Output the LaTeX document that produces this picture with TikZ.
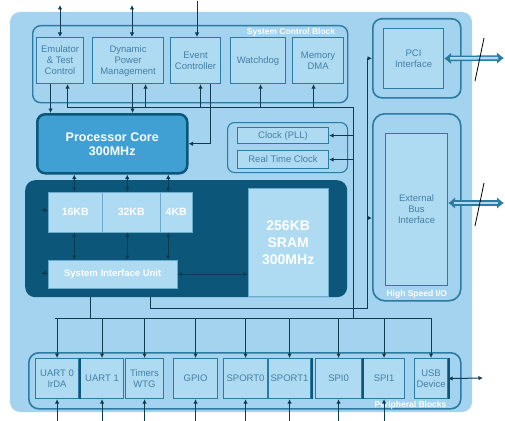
\documentclass[tikz,border=0pt]{standalone}
\usepackage{fontspec}
\setmainfont{Liberation Sans}
\setsansfont{Liberation Sans}
\usepackage{tikz}
\usetikzlibrary{positioning, arrows.meta, calc}

\definecolor{bgblue}{HTML}{A3D3EE}
\definecolor{boxblue}{HTML}{AEDBF2}
\definecolor{lineblue}{HTML}{2B7BA3}
\definecolor{deepblue}{HTML}{0C5779}
\definecolor{wireblue}{HTML}{0E3B52}
\definecolor{coreblue}{HTML}{40A0D4}
\definecolor{labelblue}{HTML}{457FA5}

\begin{document}
\begin{tikzpicture}[
        x=1pt, y=-1pt,
        >={Latex[length=4.5pt,width=4.5pt]},
        % --- looks of the blocks ---
        panel/.style={draw=lineblue, line width=1.4pt, rounded corners=8pt,
            anchor=north west, inner sep=0pt},
        unit/.style={draw=lineblue, line width=1.1pt, fill=boxblue,
            anchor=north west, inner sep=0pt, align=center, text=labelblue,
            font=\sffamily\fontsize{9.5}{11}\selectfont},
        cache/.style={fill=boxblue, draw=lineblue!50!boxblue, line width=0.4pt,
            anchor=north west, inner sep=0pt, align=center, text=white,
            font=\sffamily\bfseries\fontsize{10.5}{12}\selectfont},
        tag/.style={text=white, inner sep=1pt,
            font=\sffamily\bfseries\fontsize{8.5}{10}\selectfont},
        wire/.style={draw=wireblue, line width=1pt},
        pipe/.style={draw=lineblue, line width=5.5pt,
            {Latex[length=7pt,width=12pt]}-{Latex[length=7pt,width=12pt]}},
        pipecore/.style={draw=boxblue, line width=2.5pt,
            shorten <=6pt, shorten >=6pt},
        cut/.style={draw=black, line width=0.8pt}
    ]
    \useasboundingbox (0,0) rectangle (505,420);
    \fill[bgblue, rounded corners=10pt] (10,12) rectangle (472,412);

    % ==================== System Control Block ====================
    \node[panel, minimum width=315pt, minimum height=77pt] (scb) at (32,25) {};
    \node[tag, anchor=north east] at ([xshift=-12pt,yshift=-2pt]scb.north east)
        {System Control Block};

    \node[unit, minimum width=47pt, minimum height=46pt] (emu) at (36,37)  {Emulator\\\& Test\\Control};
    \node[unit, minimum width=71pt, minimum height=46pt] (dpm) at (92,37)  {Dynamic\\Power\\Management};
    \node[unit, minimum width=50pt, minimum height=46pt] (evc) at (170,37) {Event\\Controller};
    \node[unit, minimum width=55pt, minimum height=46pt] (wdg) at (230,37) {Watchdog};
    \node[unit, minimum width=51pt, minimum height=46pt] (dma) at (292,37) {Memory\\DMA};

    % ==================== Core, clocks, memory ====================
    \node[anchor=north west, minimum width=150pt, minimum height=59pt,
          fill=coreblue, draw=deepblue, line width=2.5pt, rounded corners=8pt,
          align=center, text=white, font=\sffamily\bfseries\fontsize{12.5}{14}\selectfont]
        (core) at (36,113) {Processor Core\\300MHz};

    \node[panel, line width=1.1pt, rounded corners=7pt, minimum width=120pt, minimum height=50pt]
        (clkp) at (227,122) {};
    \node[unit, minimum width=91pt, minimum height=16pt] (clk) at (237,127) {Clock (PLL)};
    \node[unit, minimum width=91pt, minimum height=18pt] (rtc) at (237,150) {Real Time Clock};

    \node[anchor=north west, minimum width=322pt, minimum height=117pt,
          fill=deepblue, rounded corners=10pt] (mem) at (25,180) {};
    \node[cache, minimum width=54pt, minimum height=40pt] (c16) at (48,192)  {16KB};
    \node[cache, minimum width=58pt, minimum height=40pt] (c32) at (102,192) {32KB};
    \node[cache, minimum width=32pt, minimum height=40pt] (c4)  at (160,192) {4KB};
    \node[cache, minimum width=129pt, minimum height=28pt,
          font=\sffamily\bfseries\fontsize{9.5}{11}\selectfont] (siu) at (48,260) {System Interface Unit};
    \node[cache, minimum width=80pt, minimum height=108pt,
          font=\sffamily\bfseries\fontsize{14}{17}\selectfont] (sram) at (248,188) {256KB\\SRAM\\300MHz};

    % ==================== High speed I/O ====================
    \node[panel, line width=1.6pt, rounded corners=9pt, minimum width=88pt, minimum height=79pt]
        (pcip) at (372,18) {};
    \node[unit, minimum width=60pt, minimum height=60pt] (pci) at (383,28) {PCI\\Interface};
    \node[panel, line width=1.6pt, rounded corners=12pt, minimum width=88pt, minimum height=187pt]
        (ebip) at (372,113) {};
    \node[unit, minimum width=62pt, minimum height=152pt] (ebi) at (385,133) {External\\Bus\\Interface};
    \node[tag, anchor=south] at ([yshift=2pt]ebip.south) {High Speed I/O};

    % ==================== Peripheral Blocks ====================
    \node[panel, line width=1.6pt, rounded corners=10pt, minimum width=432pt, minimum height=56pt]
        (per) at (28,352) {};
    \node[tag, anchor=south east] at ([xshift=-14pt,yshift=-1pt]per.south east) {Peripheral Blocks};

    \node[unit, minimum width=43pt, minimum height=40pt] (u0)   at (35,358)  {UART 0\\IrDA};
    \node[unit, minimum width=43pt, minimum height=40pt] (u1)   at (80,358)  {UART 1};
    \node[unit, minimum width=38pt, minimum height=40pt] (tmr)  at (125,358) {Timers\\WTG};
    \node[unit, minimum width=44pt, minimum height=40pt] (gpio) at (173,358) {GPIO};
    \node[unit, minimum width=44pt, minimum height=40pt] (sp0)  at (223,358) {SPORT0};
    \node[unit, minimum width=42pt, minimum height=40pt] (sp1)  at (268,358) {SPORT1};
    \node[unit, minimum width=46pt, minimum height=40pt] (spi0) at (315,358) {SPI0};
    \node[unit, minimum width=41pt, minimum height=40pt] (spi1) at (363,358) {SPI1};
    \node[unit, minimum width=33pt, minimum height=40pt] (usb)  at (414,358) {USB\\Device};

    \foreach \n in {u0, sp1, spi0, usb}
        \draw[deepblue, line width=2.2pt] ([xshift=1pt]\n.north east) -- ([xshift=1pt]\n.south east);

    % ==================== Connections ====================
    \coordinate (emu-pin) at (60,5);
    \coordinate (dpm-pin) at (132,5);
    \coordinate (evc-pin) at (197,1);
    \draw[wire,<->] (emu-pin) -- (emu-pin |- emu.north);
    \draw[wire,<->] (dpm-pin) -- (dpm-pin |- dpm.north);
    \draw[wire,->]  (evc-pin) -- (evc-pin |- evc.north);

    \draw[wire,->] ([xshift=-9.5pt]emu.south) -- ([xshift=-9.5pt]emu.south |- core.north);
    \draw[wire,->] ([xshift=4.5pt]dpm.south) -- ([xshift=4.5pt]dpm.south |- core.north);
    \draw[wire,->] ([xshift=15pt]evc.south) |- (core.east);

    % control bus under the SCB
    \coordinate (cbus-w) at (67,107);
    \coordinate (cbus-e) at (353,107);
    \coordinate (pbus-w) at (55,318);
    \coordinate (pbus-e) at (432,318);
    \draw[wire] (cbus-w) -- (cbus-e) -- (cbus-e |- pbus-e);
    \foreach \dx/\n in {7.5/emu, 17.5/dpm, 5/evc, 2.5/wdg, -4.5/dma}
        \draw[wire,->] ([xshift=\dx pt]\n.south |- cbus-w) -- ([xshift=\dx pt]\n.south);
    \draw[wire,->] (clk.east -| cbus-e) -- (clk.east);
    \draw[wire,->] (rtc.east -| cbus-e) -- (rtc.east);

    % core to caches to SIU
    \foreach \dx/\n in {-38/c16, 15/c32, 56/c4} {
        \draw[wire,<->] ([xshift=\dx pt]core.south) -- ([xshift=\dx pt]core.south |- \n.north);
        \draw[wire,<->] ([xshift=\dx pt]core.south |- \n.south) -- ([xshift=\dx pt]core.south |- siu.north);
    }
    \coordinate (mem-l1) at (41,210);
    \coordinate (mem-l2) at (41,273);
    \draw[wire,->] (mem-l1 -| c16.west) -- (mem-l1);
    \draw[wire,->] (mem-l2 -| siu.west) -- (mem-l2);
    \draw[wire,<->] (siu.east) -- (siu.east -| sram.west);

    % peripheral bus
    \coordinate (mem-tap) at (90,318);
    \draw[wire] (pbus-w) -- (pbus-e);
    \draw[wire] (mem-tap |- mem.south) -- (mem-tap);
    \foreach \n in {u0, u1, tmr, gpio, sp0, sp1, spi0, spi1, usb}
        \draw[wire,->] (\n.north |- pbus-w) -- (\n.north);
    \coordinate (pins) at (0,421);
    \foreach \n in {u0, u1, tmr, gpio, sp0, sp1, spi0, spi1}
        \draw[wire,->] (\n.south |- pins) -- (\n.south);
    \coordinate (usb-pin) at (483,378);
    \draw[wire,<->] (usb.east) -- (usb-pin);

    % high speed bus
    \coordinate (hs-tap) at (150,308);
    \coordinate (hs-bend) at (367,308);
    \draw[wire] (hs-tap |- mem.south) -- (hs-tap) -- (hs-bend) -- (hs-bend |- pcip.west);
    \draw[wire,->] (hs-bend |- pcip.west) -- (pcip.west);
    \coordinate (ebi-tap) at (367,218);
    \draw[wire,->] (ebi-tap) -- (ebi-tap -| ebip.west);

    % external buses
    \coordinate (pci-pin) at (504,58);
    \coordinate (ebi-pin) at (504,203);
    \draw[pipe] (pci.east) -- (pci-pin);
    \draw[pipecore] (pci.east) -- (pci-pin);
    \draw[pipe] (ebi.east |- ebi-pin) -- (ebi-pin);
    \draw[pipecore] (ebi.east |- ebi-pin) -- (ebi-pin);
    \draw[cut] (475,81) .. controls (479,62) .. (484,38);
    \draw[cut] (475,226) .. controls (479,207) .. (484,183);
\end{tikzpicture}
\end{document}
